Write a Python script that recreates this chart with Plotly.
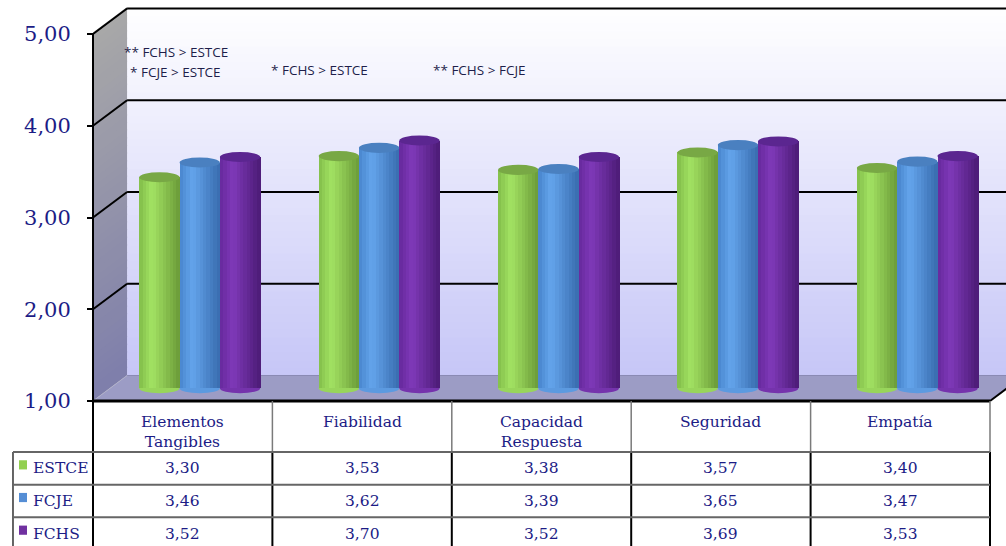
import plotly.graph_objects as go

# ---------------- data ----------------
categories = ["Elementos<br>Tangibles", "Fiabilidad", "Capacidad<br>Respuesta", "Seguridad", "Empatía"]
series_names = ["ESTCE", "FCJE", "FCHS"]
estce = [3.30, 3.53, 3.38, 3.57, 3.40]
fcje = [3.46, 3.62, 3.39, 3.65, 3.47]
fchs = [3.52, 3.70, 3.52, 3.69, 3.53]
y_ticks = [1, 2, 3, 4, 5]
notes = ["** FCHS > ESTCE", "* FCJE > ESTCE", "* FCHS > ESTCE", "** FCHS > FCJE"]

# ---------------- layout / style ----------------
note_pos = [(0.160, 4.805), (0.193, 4.585), (0.983, 4.605), (1.886, 4.605)]
series_vals = [estce, fcje, fchs]
W, H = 1006, 546
PAGE_PAD = 0                  # body margin removed by post_script
PXU_X, PXU_Y = 179.4, 91.75   # pixels per unit
AX_X, AX_Y = 93 - PAGE_PAD, 401 - PAGE_PAD
XR = (-AX_X / PXU_X, (W - AX_X) / PXU_X)
YR = (1 - (H - AX_Y) / PXU_Y, 1 + AX_Y / PXU_Y)
DX, DY = 0.19, 0.278          # depth offset of back wall
BW = 0.2247                   # cylinder width
EH = 0.11                     # cap ellipse height
NS = 12                       # shading strips per cylinder
TH, RH = 0.556, 0.356         # table header / row heights
TL = -0.446                   # table left edge
NAVY = "#1c1c86"
TFONT = 15.5

body = [  # left edge, highlight, right edge
    ("#82bd4a", "#a3e363", "#6b9b38"),
    ("#4885cd", "#64a5ec", "#386cae"),
    ("#66299c", "#7f39b9", "#4c1b76"),
]
caps = ["#78a845", "#4a80c0", "#5b2690"]
legend_cols = ["#92d050", "#558ed5", "#7030a0"]


def hex2rgb(h):
    h = h.lstrip("#")
    return [int(h[i:i + 2], 16) for i in (0, 2, 4)]


def mix(c1, c2, t):
    a, b = hex2rgb(c1), hex2rgb(c2)
    return "rgb(%d,%d,%d)" % tuple(round(a[i] + (b[i] - a[i]) * t) for i in range(3))


def strip_color(pal, t):
    l, h, r = pal
    if t < 0.32:
        return mix(l, h, t / 0.32)
    return mix(h, r, (t - 0.32) / 0.68)


fig = go.Figure()
xc = [i + 0.5 for i in range(len(categories))]
start = DX / 2 - 1.5 * BW
sw = BW / NS

# ---------------- bars (cylinders) ----------------
for s, vals in enumerate(series_vals):
    for j in range(NS):
        t = (j + 0.5) / NS
        fig.add_trace(go.Bar(
            x=xc, y=[v - 1 for v in vals], base=1 + DY / 2,
            width=sw * 1.25, offset=start + s * BW + j * sw,
            marker=dict(color=strip_color(body[s], t), line=dict(width=0)),
            name=series_names[s], showlegend=False, hoverinfo="skip",
        ))

shapes = []
XFAR = XR[1] + 0.3

# back wall gradient bands
NB = 48
for k in range(NB):
    f0, f1 = k / NB, (k + 1) / NB
    y0 = 1 + DY + 4 * f0
    y1 = 1 + DY + 4 * f1 + 0.01
    shapes.append(dict(type="rect", xref="x", yref="y", x0=DX, x1=XFAR,
                       y0=y0, y1=y1, line=dict(width=0),
                       fillcolor=mix("#c6c6f7", "#ffffff", (f0 + f1) / 2), layer="below"))
# side wall gradient bands
for k in range(NB):
    f0, f1 = k / NB, (k + 1) / NB + 0.004
    a, b = 1 + 4 * f0, 1 + 4 * f1
    shapes.append(dict(type="path", xref="x", yref="y",
                       path=f"M 0,{a} L {DX},{a + DY} L {DX},{b + DY} L 0,{b} Z",
                       line=dict(width=0),
                       fillcolor=mix("#7e7eab", "#a8a8a8", (f0 + f1) / 2), layer="below"))
# floor
shapes.append(dict(type="path", xref="x", yref="y",
                   path=f"M 0,1 L 5,1 L {5 + DX},{1 + DY} L {DX},{1 + DY} Z",
                   line=dict(width=0), fillcolor="#9c9cc5", layer="below"))
shapes.append(dict(type="line", xref="x", yref="y", x0=DX, x1=XFAR, y0=1 + DY, y1=1 + DY,
                   line=dict(color="#8a8ab4", width=1), layer="below"))
shapes.append(dict(type="line", xref="x", yref="y", x0=0, x1=DX, y0=1, y1=1 + DY,
                   line=dict(color="#b0b0c8", width=1), layer="below"))
# gridlines on back wall + side wall
for v in y_ticks[1:]:
    shapes.append(dict(type="line", xref="x", yref="y", x0=DX, x1=XFAR, y0=v + DY, y1=v + DY,
                       line=dict(color="black", width=2), layer="below"))
    shapes.append(dict(type="line", xref="x", yref="y", x0=0, x1=DX, y0=v, y1=v + DY,
                       line=dict(color="black", width=2), layer="below"))
# front axis line
shapes.append(dict(type="line", xref="x", yref="y", x0=0, x1=0, y0=1, y1=5,
                   line=dict(color="black", width=2), layer="below"))
# floor front edge and right edge
shapes.append(dict(type="line", xref="x", yref="y", x0=0, x1=5, y0=1, y1=1,
                   line=dict(color="black", width=3), layer="below"))
shapes.append(dict(type="line", xref="x", yref="y", x0=5, x1=5 + DX, y0=1, y1=1 + DY,
                   line=dict(color="black", width=2), layer="below"))

# cylinder caps
for s, vals in enumerate(series_vals):
    for i, v in enumerate(vals):
        x0 = xc[i] + start + s * BW
        x1 = x0 + BW
        top = v + DY / 2
        shapes.append(dict(type="circle", xref="x", yref="y", x0=x0, x1=x1,
                           y0=top - EH / 2, y1=top + EH / 2,
                           fillcolor=caps[s], line=dict(width=0), layer="above"))
        bot = 1 + DY / 2
        shapes.append(dict(type="circle", xref="x", yref="y", x0=x0, x1=x1,
                           y0=bot - EH / 2, y1=bot + EH / 2,
                           fillcolor=strip_color(body[s], 0.45), line=dict(width=0), layer="between"))

# ---------------- data table ----------------
header_bottom = 1 - TH
row_tops = [header_bottom - r * RH for r in range(len(series_names))]
table_bottom = header_bottom - len(series_names) * RH
for i in range(len(categories) + 1):
    shapes.append(dict(type="line", xref="x", yref="y", x0=i, x1=i, y0=1, y1=header_bottom,
                       line=dict(color="black" if i == 0 else "#7a7a7a", width=2 if i == 0 else 1.5),
                       layer="above"))
    shapes.append(dict(type="line", xref="x", yref="y", x0=i, x1=i, y0=header_bottom, y1=table_bottom,
                       line=dict(color="black", width=2), layer="above"))
shapes.append(dict(type="line", xref="x", yref="y", x0=TL, x1=TL, y0=header_bottom, y1=table_bottom,
                   line=dict(color="#333333", width=1.5), layer="above"))
for r in range(len(series_names)):
    shapes.append(dict(type="line", xref="x", yref="y", x0=TL, x1=len(categories), y0=row_tops[r],
                       y1=row_tops[r], line=dict(color="#666666", width=2), layer="above"))

annotations = []
for i, c in enumerate(categories):
    annotations.append(dict(x=xc[i], y=1 - 0.11, xref="x", yref="y", text=c, showarrow=False,
                            xanchor="center", yanchor="top",
                            font=dict(family="DejaVu Serif", size=TFONT, color=NAVY)))
for r, (name, vals) in enumerate(zip(series_names, series_vals)):
    yc = row_tops[r] - RH / 2
    shapes.append(dict(type="rect", xref="x", yref="y", x0=-0.4125, x1=-0.368,
                       y0=yc - 0.012, y1=yc + 0.088, fillcolor=legend_cols[r],
                       line=dict(width=0), layer="above"))
    annotations.append(dict(x=-0.3456, y=yc, xref="x", yref="y", text=name, showarrow=False,
                            xanchor="left", yanchor="middle",
                            font=dict(family="DejaVu Serif", size=TFONT, color=NAVY)))
    for i, v in enumerate(vals):
        annotations.append(dict(x=xc[i], y=yc, xref="x", yref="y",
                                text=f"{v:.2f}".replace(".", ","), showarrow=False,
                                xanchor="center", yanchor="middle",
                                font=dict(family="DejaVu Serif", size=TFONT, color=NAVY)))

for txt, (nx, ny) in zip(notes, note_pos):
    annotations.append(dict(x=nx, y=ny, xref="x", yref="y", text=txt, showarrow=False,
                            xanchor="left", yanchor="middle",
                            font=dict(family="Open Sans", size=13.5, color="#1e1e4a")))

fig.update_layout(
    width=W, height=H,
    margin=dict(l=0, r=0, t=0, b=0),
    paper_bgcolor="white", plot_bgcolor="white",
    barmode="overlay", bargap=0,
    separators=",.",
    showlegend=False,
    shapes=shapes, annotations=annotations,
    xaxis=dict(range=list(XR), visible=False, fixedrange=True, domain=[0, 1]),
    yaxis=dict(range=list(YR), anchor="free", position=AX_X / W, fixedrange=True,
               tickvals=y_ticks, tickformat=".2f", ticks="outside", ticklen=6,
               tickwidth=1.5, tickcolor="black", showgrid=False, zeroline=False,
               showline=False, ticklabelstandoff=12,
               tickfont=dict(family="DejaVu Serif", size=21, color=NAVY)),
)

fig.write_html(
    "out.html",
    config={"displayModeBar": False},
    post_script="document.body.style.margin='0';document.body.style.overflow='hidden';",
)
